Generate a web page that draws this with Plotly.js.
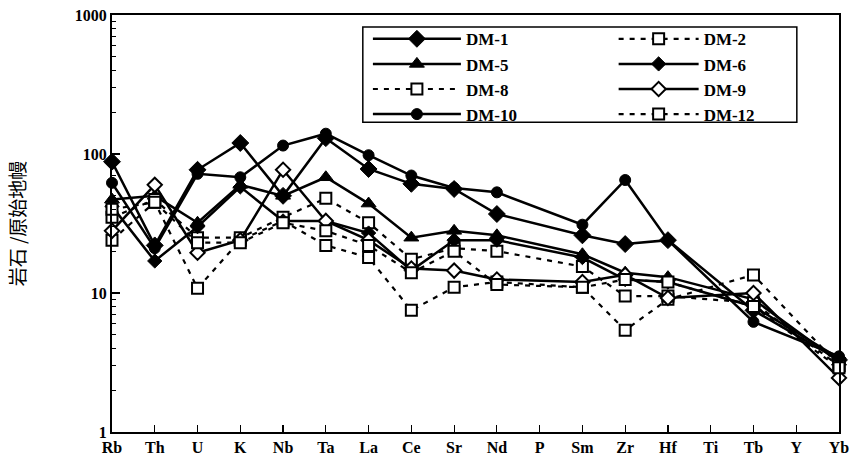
<!DOCTYPE html>
<html>
<head>
<meta charset="utf-8">
<script src="https://cdn.plot.ly/plotly-3.0.1.min.js"></script>
<style>html,body{margin:0;padding:0;background:#fff;}</style>
</head>
<body>
<div id="chart" style="width:854px;height:474px;"></div>
<script>
// Categories (elements)
var elements = ["Rb","Th","U","K","Nb","Ta","La","Ce","Sr","Nd","P","Sm","Zr","Hf","Ti","Tb","Y","Yb"];

// Rock / primitive mantle normalized values (null = not analysed)
var dm1  = [88, 22, 77, 120, 50, 130, 78, 61, 56, 37, null, 26, 22.5, 24, null, 7.5, null, 3.3];
var dm2  = [35, 47, 25, 25, 35, 48, 32, 17.5, 21, 20, null, 15.5, 9.5, 9.5, null, 8.5, null, 3.0];
var dm5  = [47, 50, 32, 60, 50, 68, 44, 25, 28, 26, null, 19, 14, 13, null, 9, null, 3.2];
var dm6  = [42, 17, 30, 58, 33, 33, 27, 14.5, 24, 24, null, 18, 12.5, 12, null, 8, null, 3.4];
var dm8  = [24, 45, 10.8, 24, 33, 22, 18, 7.5, 11, 12, null, 11, 5.4, 9, null, 13.5, null, 3.0];
var dm9  = [28, 60, 19.5, 24, 77, 33, 24, 15, 14.5, 12.5, null, 12, 13.5, 9.2, null, 10, null, 2.45];
var dm10 = [62, 21, 72, 68, 115, 140, 98, 70, 57, 53, null, 31, 65, 24, null, 6.2, null, 3.5];
var dm12 = [40, 45, 23, 23, 32, 28, 22, 14, 20, 11.5, null, 11, 12.5, 12, null, 8, null, 2.9];

var seriesNames = ["DM-1","DM-2","DM-5","DM-6","DM-8","DM-9","DM-10","DM-12"];

var solid = {color:"#000", width:2.5};
var dashed = {color:"#000", width:2.2, dash:"5px,6px"};
var filledDiamond = {symbol:"diamond", size:13, color:"#000", line:{color:"#000", width:1}};
var smallDiamond = {symbol:"diamond", size:11, color:"#000", line:{color:"#000", width:1}};
var openDiamond = {symbol:"diamond", size:11, color:"#fff", line:{color:"#000", width:2}};
var triangle = {symbol:"triangle-up", size:13, color:"#000", line:{color:"#000", width:1}};
var circle = {symbol:"circle", size:11, color:"#000", line:{color:"#000", width:1}};
var openSquare = {symbol:"square", size:11, color:"#fff", line:{color:"#000", width:2}};

function tr(name, y, line, marker, legend) {
  return {type:"scatter", mode:"lines+markers", name:name, x:elements, y:y,
    line:line, marker:marker, connectgaps:true, cliponaxis:false, legend:legend};
}

var data = [
  tr(seriesNames[0], dm1, solid, filledDiamond, "legend"),
  tr(seriesNames[2], dm5, solid, triangle, "legend"),
  tr(seriesNames[4], dm8, dashed, openSquare, "legend"),
  tr(seriesNames[6], dm10, solid, circle, "legend"),
  tr(seriesNames[1], dm2, dashed, openSquare, "legend2"),
  tr(seriesNames[3], dm6, solid, smallDiamond, "legend2"),
  tr(seriesNames[5], dm9, solid, openDiamond, "legend2"),
  tr(seriesNames[7], dm12, dashed, openSquare, "legend2")
];

var serif = "Liberation Serif, Times New Roman, serif";
var legendFont = {family:serif, size:17, color:"#000", weight:"bold"};

var minorVals = [];
[1,10,100].forEach(function(d){ for (var k=2;k<=9;k++) minorVals.push(k*d); });

var layout = {
  width:854, height:474,
  margin:{l:112, r:15, t:15, b:42},
  paper_bgcolor:"#fff", plot_bgcolor:"#fff",
  showlegend:true,
  xaxis:{
    type:"category", categoryorder:"array", categoryarray:elements,
    range:[0,17], showline:true, linecolor:"#000", linewidth:2, mirror:true,
    ticks:"inside", ticklen:7, tickcolor:"#000", tickwidth:1.2,
    showgrid:false, zeroline:false,
    tickfont:{family:serif, size:16, color:"#000", weight:"bold"}
  },
  yaxis:{
    type:"log", range:[0,3], showline:true, linecolor:"#000", linewidth:2, mirror:true,
    tickvals:[1,10,100,1000], ticktext:["1","10","100","1000"],
    ticks:"inside", ticklen:8, tickcolor:"#000", tickwidth:1.2,
    minor:{tickvals:minorVals, ticks:"inside", ticklen:4, tickcolor:"#000", tickwidth:1, showgrid:false},
    showgrid:false, zeroline:false,
    tickfont:{family:serif, size:16, color:"#000", weight:"bold"},
    title:{text:"岩石 /原始地幔", font:{family:"Noto Sans CJK SC", size:19, color:"#000"}, standoff:44}
  },
  legend:{x:0.352, y:0.985, xanchor:"left", yanchor:"top", bgcolor:"rgba(0,0,0,0)",
    font:legendFont, itemwidth:88, tracegroupgap:0, borderwidth:0},
  legend2:{x:0.69, y:0.985, xanchor:"left", yanchor:"top", bgcolor:"rgba(0,0,0,0)",
    font:legendFont, itemwidth:80, tracegroupgap:0, borderwidth:0},
  shapes:[{type:"rect", xref:"paper", yref:"paper", x0:0.345, x1:0.942, y0:0.743, y1:0.971,
    line:{color:"#000", width:1.5}, fillcolor:"rgba(0,0,0,0)", layer:"below"}]
};

Plotly.newPlot("chart", data, layout, {displayModeBar:false, staticPlot:true});
</script>
</body>
</html>
